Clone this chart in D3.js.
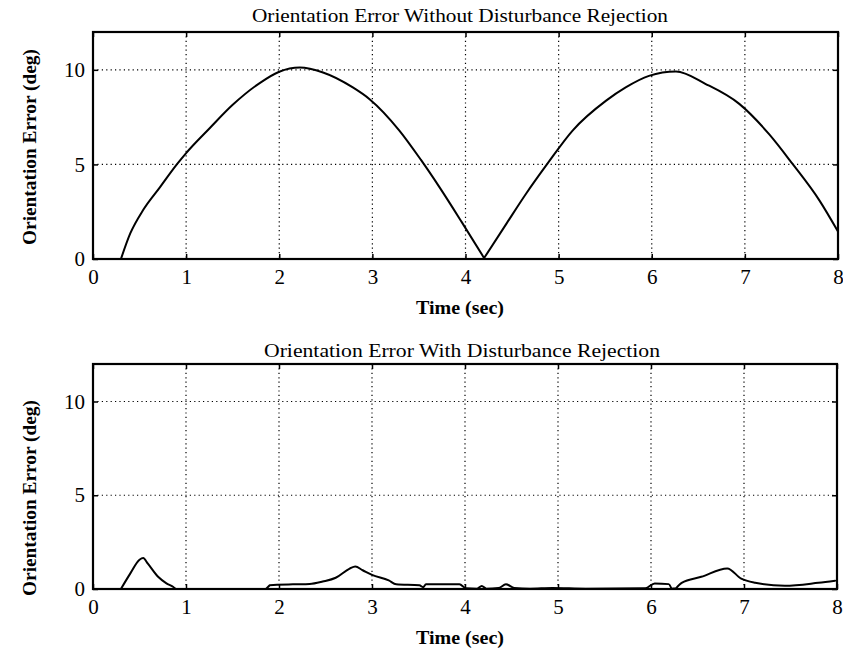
<!DOCTYPE html>
<html>
<head>
<meta charset="utf-8">
<script src="https://cdn.jsdelivr.net/npm/d3@7/dist/d3.min.js"></script>
<style>
  html, body { margin: 0; padding: 0; background: #fff; }
  svg { display: block; }
  text { font-family: "Liberation Serif", "Times New Roman", serif; fill: #000; }
</style>
</head>
<body>
<svg id="chart" width="843" height="652"></svg>
<script>
// Orientation error samples, time (sec) and error (deg)
const timeNoRejection = [0, 0.30, 0.40, 0.54, 0.72, 0.90, 1.00, 1.25, 1.50, 1.79, 2.00, 2.22, 2.47, 2.79, 2.97, 3.29, 3.52, 3.72, 3.96, 4.20, 4.44, 4.65, 4.88, 5.15, 5.51, 5.72, 5.97, 6.26, 6.58, 6.94, 7.26, 7.51, 7.80, 8.00];
const errorNoRejection = [0, 0, 1.35, 2.6, 3.8, 5.0, 5.6, 6.9, 8.15, 9.3, 9.9, 10.12, 9.86, 9.07, 8.45, 6.79, 5.25, 3.8, 1.95, 0.05, 1.87, 3.45, 5.04, 6.79, 8.37, 9.07, 9.68, 9.91, 9.25, 8.2, 6.6, 5.04, 3.1, 1.45];
// times where the trace has a sharp corner
const cornersNoRejection = [0.30, 4.20];

const timeWithRejection = [0, 0.30, 0.40, 0.50, 0.54, 0.59, 0.70, 0.79, 0.86, 0.89, 1.86, 1.90, 2.15, 2.33, 2.47, 2.61, 2.76, 2.82, 2.90, 3.00, 3.18, 3.26, 3.51, 3.55, 3.58, 3.94, 4.01, 4.13, 4.18, 4.23, 4.36, 4.44, 4.53, 4.70, 4.94, 5.30, 5.94, 6.04, 6.19, 6.22, 6.27, 6.33, 6.54, 6.82, 6.97, 7.12, 7.44, 7.80, 7.98];
const errorWithRejection = [0, 0, 0.82, 1.56, 1.65, 1.35, 0.65, 0.3, 0.12, 0, 0, 0.2, 0.25, 0.27, 0.4, 0.6, 1.09, 1.2, 1.0, 0.75, 0.46, 0.25, 0.2, 0.1, 0.25, 0.25, 0.04, 0.02, 0.16, 0.02, 0.05, 0.25, 0.06, 0.02, 0.06, 0.02, 0.04, 0.3, 0.26, 0.02, 0.04, 0.33, 0.65, 1.1, 0.55, 0.33, 0.17, 0.33, 0.44];
const cornersWithRejection = [0.30, 0.89, 1.86, 1.90, 6.22, 6.27];

const xTicks = [0, 1, 2, 3, 4, 5, 6, 7, 8];
const yTicks = [0, 5, 10];
const titles = ["Orientation Error Without Disturbance Rejection", "Orientation Error With Disturbance Rejection"];
const xLabel = "Time (sec)";
const yLabel = "Orientation Error (deg)";

const FONT = "'Liberation Serif', 'Times New Roman', serif";
const svg = d3.select("#chart");

const panels = [
  { top: 32, bottom: 259, left: 93, right: 838, t: timeNoRejection, v: errorNoRejection, corners: cornersNoRejection,
    title: titles[0], titleY: 22, titleLen: 416, titleX: 460, xLabY: 314, yLabY: 147 },
  { top: 364, bottom: 589, left: 93, right: 837, t: timeWithRejection, v: errorWithRejection, corners: cornersWithRejection,
    title: titles[1], titleY: 357, titleLen: 396, titleX: 462, xLabY: 644, yLabY: 498 }
];

// split a trace into pieces at its corner times so each piece is smoothed on its own
function splitAtCorners(pts, corners) {
  const pieces = [];
  let cur = [];
  pts.forEach(d => {
    cur.push(d);
    if (corners.includes(d[0])) { pieces.push(cur); cur = [d]; }
  });
  if (cur.length > 1) pieces.push(cur);
  return pieces;
}

panels.forEach(p => {
  const x = d3.scaleLinear().domain([0, 8]).range([p.left, p.right]);
  const y = d3.scaleLinear().domain([0, 12]).range([p.bottom, p.top]);
  const g = svg.append("g");

  // dotted grid
  g.append("g").selectAll("line").data(xTicks.filter(d => d > 0 && d < 8)).join("line")
    .attr("x1", d => x(d)).attr("x2", d => x(d)).attr("y1", p.top).attr("y2", p.bottom)
    .attr("stroke", "#000").attr("stroke-width", 1.2).attr("stroke-dasharray", "1.2,3.2");
  g.append("g").selectAll("line").data(yTicks.filter(d => d > 0)).join("line")
    .attr("x1", p.left).attr("x2", p.right).attr("y1", d => y(d)).attr("y2", d => y(d))
    .attr("stroke", "#000").attr("stroke-width", 1.2).attr("stroke-dasharray", "1.2,3.2");

  // axes with inward ticks
  const bottomAxis = g.append("g").attr("transform", `translate(0,${p.bottom})`)
    .call(d3.axisBottom(x).tickValues(xTicks).tickSizeInner(-5).tickSizeOuter(0).tickPadding(12).tickFormat(d3.format("d")));
  const topAxis = g.append("g").attr("transform", `translate(0,${p.top})`)
    .call(d3.axisTop(x).tickValues(xTicks).tickSizeInner(-5).tickSizeOuter(0).tickFormat(""));
  const leftAxis = g.append("g").attr("transform", `translate(${p.left},0)`)
    .call(d3.axisLeft(y).tickValues(yTicks).tickSizeInner(-5).tickSizeOuter(0).tickPadding(8).tickFormat(d3.format("d")));
  const rightAxis = g.append("g").attr("transform", `translate(${p.right},0)`)
    .call(d3.axisRight(y).tickValues(yTicks).tickSizeInner(-5).tickSizeOuter(0).tickFormat(""));
  [bottomAxis, topAxis, leftAxis, rightAxis].forEach(a => {
    a.attr("font-family", FONT).attr("font-size", 21);
    a.select(".domain").remove();
    a.selectAll("line").attr("stroke", "#000").attr("stroke-width", 1.5);
    a.selectAll("text").attr("font-family", FONT).attr("font-size", 21).attr("fill", "#000");
  });
  bottomAxis.selectAll("text").attr("dy", "0.71em").attr("y", 10);

  // frame
  g.append("rect").attr("x", p.left).attr("y", p.top)
    .attr("width", p.right - p.left).attr("height", p.bottom - p.top)
    .attr("fill", "none").attr("stroke", "#000").attr("stroke-width", 2.2);

  // series trace
  const pts = p.t.map((t, i) => [t, p.v[i]]);
  const line = d3.line().x(d => x(d[0])).y(d => y(d[1])).curve(d3.curveMonotoneX);
  g.append("path")
    .attr("d", splitAtCorners(pts, p.corners).map(seg => line(seg)).join(""))
    .attr("fill", "none").attr("stroke", "#000").attr("stroke-width", 2)
    .attr("stroke-linejoin", "round").attr("stroke-linecap", "round");

  // titles and labels
  g.append("text").attr("x", p.titleX).attr("y", p.titleY).attr("text-anchor", "middle")
    .attr("font-family", FONT).attr("font-size", 18)
    .attr("textLength", p.titleLen).attr("lengthAdjust", "spacingAndGlyphs")
    .text(p.title);
  g.append("text").attr("x", 460).attr("y", p.xLabY).attr("text-anchor", "middle")
    .attr("font-family", FONT).attr("font-size", 18).attr("font-weight", "bold")
    .attr("textLength", 88).attr("lengthAdjust", "spacingAndGlyphs")
    .text(xLabel);
  g.append("text").attr("transform", `translate(36,${p.yLabY}) rotate(-90)`).attr("text-anchor", "middle")
    .attr("font-family", FONT).attr("font-size", 18).attr("font-weight", "bold")
    .attr("textLength", 196).attr("lengthAdjust", "spacingAndGlyphs")
    .text(yLabel);
});
</script>
</body>
</html>
